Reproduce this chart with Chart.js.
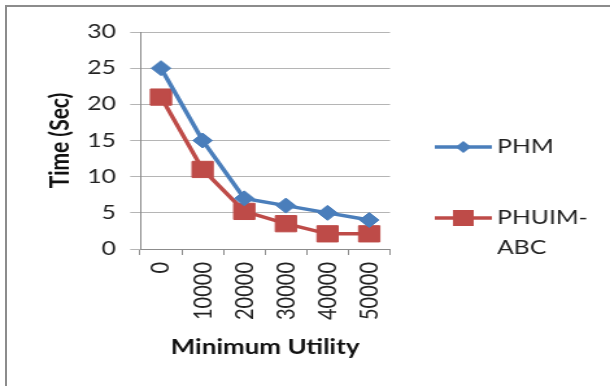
<!DOCTYPE html>
<html>
<head>
<meta charset="utf-8">
<script src="https://cdn.jsdelivr.net/npm/chart.js@4.4.1/dist/chart.umd.min.js"></script>
<style>
  body { margin: 0; background: #fff; }
  #wrap { position: relative; width: 610px; height: 386px; overflow: hidden; }
  #frame { position: absolute; left: 5px; top: 5px; width: 700px; height: 500px;
           border-left: 2px solid #8c8c8c; border-top: 2px solid #8c8c8c; pointer-events: none; }
  #chart { display: block; }
</style>
</head>
<body>
<div id="wrap">
  <!-- the reference picture is stretched sideways, so the canvas is too -->
  <canvas id="chart" width="470" height="386" style="width:610px;height:386px"></canvas>
  <div id="frame"></div>
</div>
<script>
// Minimum utility vs run time, two algorithms
const minUtility = ['0', '10000', '20000', '30000', '40000', '50000'];
const phmTimes = [25, 15, 7, 6, 5, 4];
const phuimAbcTimes = [21, 11, 5.2, 3.5, 2.1, 2.1];
const seriesNames = ['PHM', ['PHUIM-', 'ABC']];

const blue = '#4a7ebb';
const red = '#be4b48';
const fontFam = 'Lato, "Open Sans", sans-serif';

//---LEGEND (drawn by hand so the second name can wrap)
const sideLegend = {
  id: 'sideLegend',
  afterDraw(chart) {
    const ctx = chart.ctx;
    const rows = [
      {y: 147, color: blue, shape: 'diamond', text: seriesNames[0]},
      {y: 218, color: red, shape: 'square', text: seriesNames[1]},
    ];
    ctx.save();
    rows.forEach(r => {
      ctx.strokeStyle = r.color;
      ctx.lineWidth = 3.5;
      ctx.beginPath();
      ctx.moveTo(335, r.y);
      ctx.lineTo(379, r.y);
      ctx.stroke();
      ctx.fillStyle = r.color;
      ctx.beginPath();
      if (r.shape == 'diamond') {
        ctx.moveTo(357 - 6, r.y);
        ctx.lineTo(357, r.y - 6);
        ctx.lineTo(357 + 6, r.y);
        ctx.lineTo(357, r.y + 6);
      } else {
        ctx.rect(357 - 8, r.y - 8, 16, 16);
      }
      ctx.closePath();
      ctx.fill();
      ctx.fillStyle = '#222';
      ctx.font = '19px ' + fontFam;
      ctx.textBaseline = 'middle';
      ctx.textAlign = 'left';
      const lines = Array.isArray(r.text) ? r.text : [r.text];
      lines.forEach((t, i) => ctx.fillText(t, 383, r.y + i * 30));
    });
    ctx.restore();
  }
};

const ctx = document.getElementById('chart').getContext('2d');
const chart = new Chart(ctx, {
  type: 'line',
  data: {
    labels: minUtility,
    datasets: [
      {
        label: 'PHM',
        data: phmTimes,
        borderColor: blue,
        backgroundColor: blue,
        borderWidth: 3.5,
        pointStyle: 'rectRot',
        pointRadius: 7.5,
        pointBorderWidth: 1,
        tension: 0,
      },
      {
        label: 'PHUIM-ABC',
        data: phuimAbcTimes,
        borderColor: red,
        backgroundColor: red,
        borderWidth: 3.5,
        pointStyle: 'rect',
        pointRadius: 11.5,
        pointBorderWidth: 1,
        tension: 0,
      }
    ]
  },
  plugins: [sideLegend],
  options: {
    responsive: false,
    animation: false,
    layout: { padding: { top: 32, right: 169.5, left: 0, bottom: 0 } },
    plugins: {
      legend: { display: false },
      tooltip: { enabled: false },
    },
    scales: {
      x: {
        offset: true,
        afterFit: scale => { scale.height = 137; },
        grid: { offset: true, drawOnChartArea: false, drawTicks: true, tickLength: 6, color: '#8c8c8c' },
        border: { color: '#8c8c8c', width: 1 },
        ticks: { minRotation: 90, maxRotation: 90, padding: 7, color: '#222', font: { family: fontFam, size: 20 } },
        title: {
          display: true,
          text: 'Minimum Utility',
          color: '#111',
          font: { family: fontFam, size: 20, weight: 'bold', lineHeight: 1.2 },
          padding: { top: 0, bottom: 26 },
        },
      },
      y: {
        min: 0,
        max: 30,
        afterFit: scale => { scale.width = 108; },
        grid: { color: '#b5b5b5', tickLength: 7.7 },
        border: { color: '#8c8c8c', width: 1 },
        ticks: { stepSize: 5, padding: 11, color: '#222', font: { family: fontFam, size: 19 } },
        title: {
          display: true,
          text: 'Time (Sec)',
          color: '#111',
          font: { family: fontFam, size: 21, weight: 'bold', lineHeight: 1.2 },
          padding: { top: 34, bottom: 0 },
        },
      }
    }
  }
});
</script>
</body>
</html>
